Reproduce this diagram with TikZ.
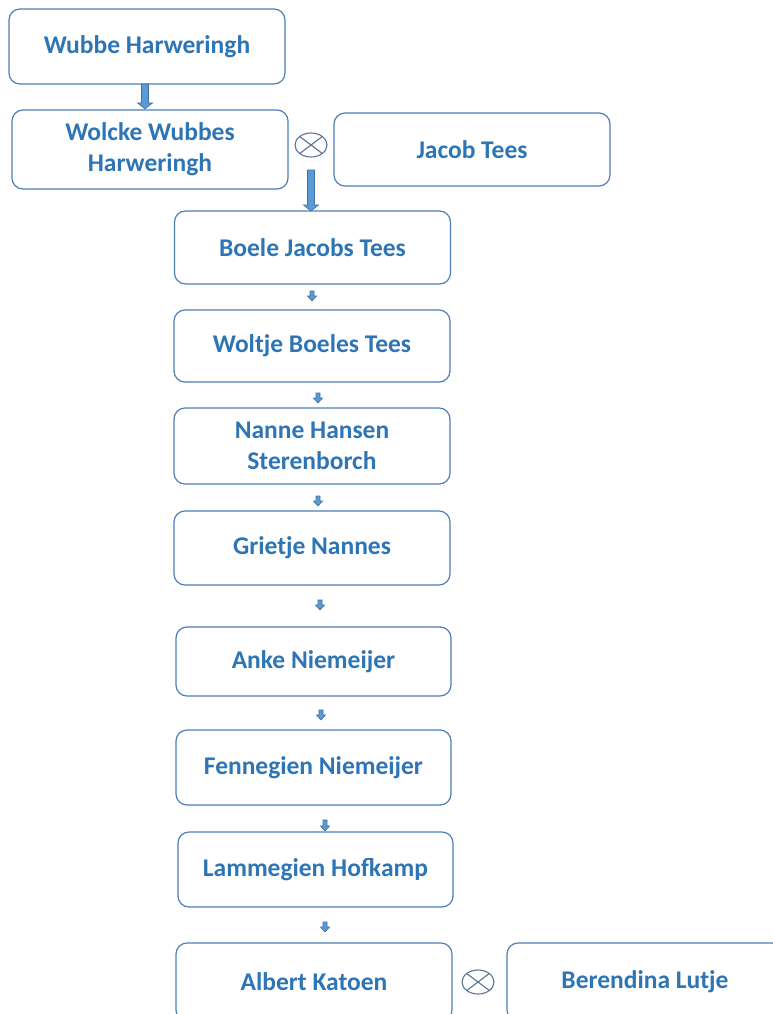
\documentclass[tikz,border=0pt]{standalone}
\usepackage{fontspec}
\setmainfont{Carlito}
\usetikzlibrary{calc}
\definecolor{txtblue}{HTML}{2E75B6}
\definecolor{lineblue}{HTML}{4F7FB8}
\definecolor{arrfill}{HTML}{5B9BD5}
\definecolor{arrline}{HTML}{41719C}
\definecolor{xgray}{HTML}{5A7496}
\tikzset{
  box/.style={draw=lineblue, line width=1.2pt, rounded corners=11pt, fill=white,
    text=txtblue, font=\fontsize{25.5}{31}\selectfont\bfseries, align=center,
    minimum width=276pt, minimum height=74pt, inner sep=0pt},
  arrowsty/.style={fill=arrfill, draw=arrline, line width=0.6pt},
  marry/.style={draw=xgray, line width=1.1pt}
}
\newcommand\barrow[5]{%
  \filldraw[arrowsty] let \p1=(#1), \p2=(#2) in
    ($(\x1-#3,\y1)$) -- ($(\x1+#3,\y1)$) -- ($(\x1+#3,\y2+#5)$) -- ($(\x1+#4,\y2+#5)$)
    -- ($(\x1,\y2)$) -- ($(\x1-#4,\y2+#5)$) -- ($(\x1-#3,\y2+#5)$) -- cycle;}
\newcommand\marrysign[2]{%
  \draw[marry] (#1) ellipse [x radius=16pt, y radius=12pt];
  \draw[marry] ($(#1)+(-11.3pt,-8.5pt)$) -- ($(#1)+(11.3pt,8.5pt)$);
  \draw[marry] ($(#1)+(-11.3pt,8.5pt)$) -- ($(#1)+(11.3pt,-8.5pt)$);}
\begin{document}
\begin{tikzpicture}[x=1pt,y=-1pt]
\useasboundingbox (0,0) rectangle (773,1014);
\clip (0,0) rectangle (773,1014);
\fill[white] (0,0) rectangle (773,1014);

\node[box, minimum height=75pt] (wubbe) at (147,46.5) {Wubbe Harweringh};
\node[box, minimum height=79pt] (wolcke) at (150,149.5) {Wolcke Wubbes\\Harweringh};
\node[box, minimum height=73pt] (jacob) at (472,149.5) {Jacob Tees};
\node[box, minimum height=73pt] (boele) at (312.5,247.5) {Boele Jacobs Tees};
\node[box, minimum height=72pt] (woltje) at (312,346) {Woltje Boeles Tees};
\node[box, minimum height=76pt] (nanne) at (312,446) {Nanne Hansen\\Sterenborch};
\node[box, minimum height=74pt] (grietje) at (312,548) {Grietje Nannes};
\node[box, minimum height=69pt, minimum width=275pt] (anke) at (313.5,661.5) {Anke Niemeijer};
\node[box, minimum height=75pt, minimum width=275pt] (fenne) at (313.5,767.5) {Fennegien Niemeijer};
\node[box, minimum height=75pt, minimum width=275pt] (lamme) at (315.5,869.5) {Lammegien Hofkamp};
\node[box, minimum height=78pt] (albert) at (314,982) {Albert Katoen};
\node[box, minimum height=78pt] (berend) at (645,982) {Berendina Lutje};

% marriage signs
\coordinate (m1) at (311,145);
\coordinate (m2) at (478,982);
\marrysign{m1}{}
\marrysign{m2}{}

% connectors
\coordinate (a1t) at (145,84);
\coordinate (a1b) at (145,109);
\barrow{a1t}{a1b}{3.5pt}{7.5pt}{6pt}
\coordinate (a2t) at (311,170);
\coordinate (a2b) at (311,211);
\barrow{a2t}{a2b}{3.5pt}{7.5pt}{6pt}

\coordinate (s1t) at (312,291);
\coordinate (s1b) at (312,301);
\coordinate (s2t) at (318,393);
\coordinate (s2b) at (318,403);
\coordinate (s3t) at (318,496);
\coordinate (s3b) at (318,506);
\coordinate (s4t) at (320,600);
\coordinate (s4b) at (320,610);
\coordinate (s5t) at (321,710);
\coordinate (s5b) at (321,720);
\coordinate (s6t) at (325,820);
\coordinate (s6b) at (325,831);
\coordinate (s7t) at (325,922);
\coordinate (s7b) at (325,932);
\foreach \i in {1,...,7}{\barrow{s\i t}{s\i b}{2pt}{4.5pt}{5pt}}
\end{tikzpicture}
\end{document}
